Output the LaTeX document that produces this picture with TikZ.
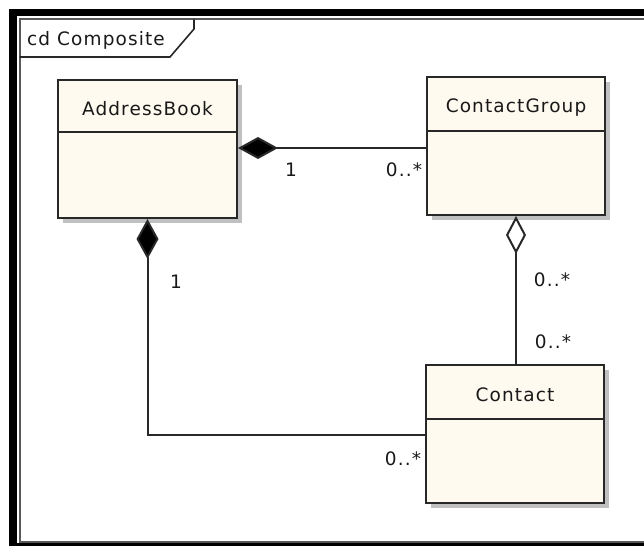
\documentclass[tikz,border=0pt]{standalone}
\usepackage{fontspec}
\setmainfont{DejaVu Sans}[LetterSpace=6]
\usetikzlibrary{arrows.meta,shadows}
\definecolor{umlfill}{RGB}{255,250,240}
\definecolor{umlline}{RGB}{40,40,40}
\definecolor{umlshadow}{RGB}{192,192,192}
\tikzset{
  classbox/.style={rectangle, draw=umlline, line width=2bp, fill=umlfill,
    minimum width=178bp, minimum height=138bp, inner sep=0pt,
    drop shadow={shadow xshift=5bp, shadow yshift=-5bp, fill=umlshadow, opacity=1}},
  umltext/.style={anchor=base, inner sep=0pt, text=black!90, font=\fontsize{18.5bp}{22bp}\selectfont},
  classname/.style={umltext},
  mult/.style={umltext},
  assoc/.style={draw=umlline, line width=2bp},
  composite/.style={{Diamond[length=40bp,width=22bp,fill=black]}-},
  shared/.style={{Diamond[length=38bp,width=20bp,open,fill=white]}-},
  divider/.style={draw=umlline, line width=2bp},
}
\begin{document}
\begin{tikzpicture}[x=1bp,y=-1bp]
  \useasboundingbox (0,0) rectangle (644,546);
  % window border
  \fill[black] (9,9) rectangle (650,550);
  \fill[white] (16.5,16.5) rectangle (650,542.5);
  \draw[line width=2bp, draw=gray!70!black] (650,19.5) -- (19.5,19.5) -- (19.5,541.5) -- (650,541.5);
  % diagram frame tab
  \draw[line width=1.6bp, draw=umlline] (19.5,57) -- (170,57) -- (194,29) -- (194,19.5);
  \node[umltext] (frametitle) at (96,46) {cd Composite};

  % classes
  \node[classbox, minimum width=179bp] (ab) at (147.5,149) {};
  \node[classbox] (cg) at (516,146) {};
  \node[classbox] (ct) at (515,433.5) {};

  \node[classname] (abname) at ([yshift=-37bp]ab.north) {AddressBook};
  \node[classname] (cgname) at ([yshift=-37bp]cg.north) {ContactGroup};
  \node[classname] (ctname) at ([yshift=-38bp]ct.north) {Contact};

  \draw[divider] ([yshift=-53bp]ab.north west) -- ([yshift=-53bp]ab.north east);
  \draw[divider] ([yshift=-55bp]cg.north west) -- ([yshift=-55bp]cg.north east);
  \draw[divider] ([yshift=-55bp]ct.north west) -- ([yshift=-55bp]ct.north east);

  % associations
  \draw[assoc, composite] ([yshift=1bp]ab.east) -- ([yshift=1bp]ab.east -| cg.west);
  \draw[assoc, composite] (ab.south) |- ([yshift=-1.5bp]ct.west);
  \draw[assoc, shared] (cg.south) -- (cg.south |- ct.north);

  % multiplicities
  \node[mult] (m1) at (291,177) {1};
  \node[mult] (m2) at (404,177) {0..*};
  \node[mult] (m3) at (176,288) {1};
  \node[mult] (m4) at (552,286) {0..*};
  \node[mult] (m5) at (553,348) {0..*};
  \node[mult] (m6) at (403,465) {0..*};
\end{tikzpicture}
\end{document}
